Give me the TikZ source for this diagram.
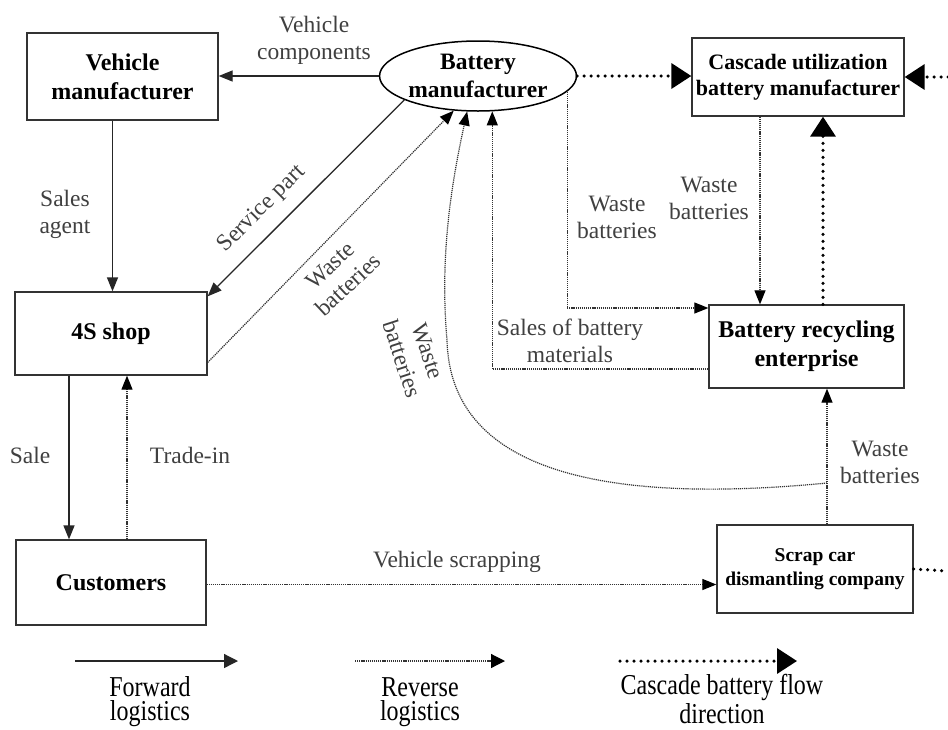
\documentclass[tikz,border=0pt]{standalone}
\usepackage{fontspec}
\setmainfont{Liberation Serif}
\usetikzlibrary{arrows.meta,shapes.geometric}
\begin{document}
\begin{tikzpicture}[x=1pt,y=-1pt,
  box/.style={draw=black!80,line width=1.3pt,align=center,inner sep=0pt,font=\bfseries\fontsize{24}{29}\selectfont},
  fwd/.style={draw=black!85,line width=1.3pt,-{Triangle[length=14pt,width=11pt]}},
  rev/.style={draw=black!80,line width=1.2pt,dash pattern=on 1.2pt off 0.9pt,-{Triangle[length=14pt,width=11pt,color=black]}},
  casc/.style={draw=black,line width=3.5pt,line cap=round,dash pattern=on 0pt off 7pt,-{Triangle[length=20pt,width=25pt]}},
  lab/.style={text=black!75,align=center,inner sep=0pt,font=\fontsize{23.5}{27}\selectfont},
  leg/.style={text=black,inner sep=0pt,font=\fontsize{24}{28}\selectfont}
]
\useasboundingbox (0,0) rectangle (948,729);
\fill[white] (0,0) rectangle (948,729);

% nodes
\node[box,minimum width=191pt,minimum height=87pt] (vm) at (122.5,76.5) {Vehicle\\manufacturer};
\node[ellipse,draw=black,line width=1.5pt,minimum width=190pt,minimum height=70pt,inner sep=0pt,align=center,font=\bfseries\fontsize{23.5}{28}\selectfont] (bm) at (478,76) {Battery\\manufacturer};
\node[box,minimum width=212pt,minimum height=78pt,font=\bfseries\fontsize{22}{26}\selectfont] (cum) at (798,77) {Cascade utilization\\battery manufacturer};
\node[box,minimum width=192pt,minimum height=83pt] (sp) at (111,333.5) {4S shop};
\node[box,minimum width=195pt,minimum height=83pt] (rec) at (806.5,346.5) {Battery recycling\\enterprise};
\node[box,minimum width=190pt,minimum height=85pt] (cu) at (111,582.5) {Customers};
\node[box,minimum width=196pt,minimum height=88pt,font=\bfseries\fontsize{19.5}{24}\selectfont] (scr) at (815,569) {Scrap car\\dismantling company};

\coordinate (cj) at (827,483);
\coordinate (rE1) at (948,77);
\coordinate (rE2) at (948,571);

% forward flows
\draw[fwd] (bm.west) -- (bm.west -| vm.east);
\draw[fwd] ([xshift=-10pt]vm.south) -- ([xshift=-10pt]vm.south |- sp.north);
\draw[fwd] (bm.198) -- ([yshift=-5pt]sp.north east);
\draw[fwd] ([xshift=-42pt]sp.south) -- ([xshift=-42pt]sp.south |- cu.north);

% reverse flows
\draw[rev] ([yshift=-29pt]sp.east) -- (bm.235);
\draw[rev] ([xshift=16pt]cu.north) -- ([xshift=16pt]cu.north |- sp.south);
\draw[rev] ([yshift=-2pt]cu.east) -- ([yshift=-2pt]cu.east -| scr.west);
\draw[rev] (bm.350) |- ([yshift=38.5pt]rec.west);
\draw[rev] ([yshift=-22.5pt]rec.west) -| (bm.292);
\draw[rev] ([xshift=-38pt]cum.south) -- ([xshift=-38pt]cum.south |- rec.north);
\draw[rev] ([xshift=12pt]scr.north) -- ([xshift=12pt]scr.north |- rec.south);
\draw[rev] (cj) .. controls (600,505) and (450,470) .. (447,340)
               .. controls (440,260) and (450,190) .. (bm.253);

% cascade flows
\draw[casc] (bm.east) -- (bm.east -| cum.west);
\draw[casc] ([xshift=16.5pt]rec.north) -- ([xshift=16.5pt]rec.north |- cum.south);
\draw[casc] (rE1) -- (cum.east);
\draw[casc,-] (scr.east) -- (rE2);

% labels
\node[lab] (l1) at (314,40) {Vehicle\\components};
\node[lab] (l2) at (65,214) {Sales\\agent};
\node[lab,rotate=45] (l3) at (262,209) {Service part};
\node[lab,rotate=43] (l4) at (339,275) {Waste\\batteries};
\node[lab,rotate=-72] (l5) at (415,355) {Waste\\batteries};
\node[lab] (l6) at (617,217) {Waste\\batteries};
\node[lab] (l7) at (709,198) {Waste\\batteries};
\node[lab] (l8) at (570,341) {Sales of battery\\materials};
\node[lab] (l9) at (880,462) {Waste\\batteries};
\node[lab] (l10) at (457,562) {Vehicle scrapping};
\node[lab] (l11) at (30,455) {Sale};
\node[lab] (l12) at (190,455) {Trade-in};

% legend
\coordinate (g1a) at (75,661);  \coordinate (g1b) at (238,661);
\coordinate (g2a) at (355,661); \coordinate (g2b) at (505,661);
\coordinate (g3a) at (620,661); \coordinate (g3b) at (797,661);
\draw[fwd,-{Triangle[length=14pt,width=14pt]}] (g1a) -- (g1b);
\draw[rev,-{Triangle[length=14pt,width=14pt,color=black]}] (g2a) -- (g2b);
\draw[casc] (g3a) -- (g3b);
\node[leg] (t1a) at (150,687) {\scalebox{1}[1.2]{Forward}};
\node[leg] (t1b) at (150,714) {\scalebox{1}[1.2]{logistics}};
\node[leg] (t2a) at (420,687) {\scalebox{1}[1.2]{Reverse}};
\node[leg] (t2b) at (420,714) {\scalebox{1}[1.2]{logistics}};
\node[leg] (t3a) at (722,687) {\scalebox{1}[1.2]{Cascade battery flow}};
\node[leg] (t3b) at (722,714) {\scalebox{1}[1.2]{direction}};
\end{tikzpicture}
\end{document}
